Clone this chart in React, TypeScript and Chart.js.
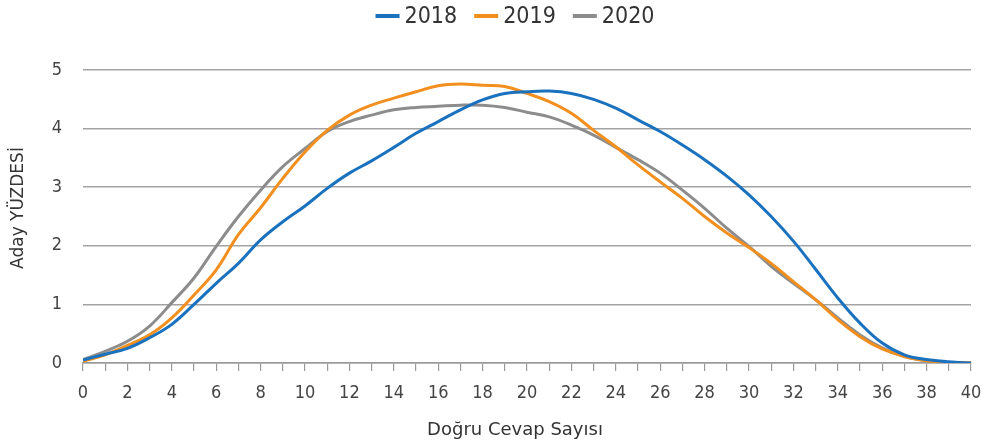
import React, { useEffect, useRef } from "react";
import { Chart, registerables } from "chart.js";

Chart.register(...registerables);

const answers = [0, 1, 2, 3, 4, 5, 6, 7, 8, 9, 10, 11, 12, 13, 14, 15, 16, 17, 18, 19, 20, 21, 22, 23, 24, 25, 26, 27, 28, 29, 30, 31, 32, 33, 34, 35, 36, 37, 38, 39, 40];
const series2018 = [0.05, 0.15, 0.25, 0.43, 0.66, 1.0, 1.36, 1.7, 2.1, 2.41, 2.68, 2.98, 3.24, 3.45, 3.68, 3.92, 4.12, 4.32, 4.49, 4.6, 4.63, 4.64, 4.6, 4.5, 4.35, 4.15, 3.95, 3.72, 3.47, 3.19, 2.87, 2.5, 2.08, 1.6, 1.11, 0.68, 0.34, 0.14, 0.06, 0.02, 0.0];
const series2019 = [0.03, 0.14, 0.3, 0.48, 0.77, 1.16, 1.59, 2.19, 2.65, 3.15, 3.6, 3.97, 4.23, 4.4, 4.52, 4.63, 4.73, 4.76, 4.74, 4.72, 4.6, 4.46, 4.26, 3.97, 3.69, 3.38, 3.09, 2.81, 2.5, 2.22, 1.97, 1.7, 1.39, 1.08, 0.74, 0.45, 0.24, 0.11, 0.04, 0.01, 0.0];
const series2020 = [0.06, 0.2, 0.37, 0.63, 1.03, 1.45, 1.99, 2.5, 2.95, 3.35, 3.66, 3.95, 4.12, 4.23, 4.32, 4.36, 4.38, 4.4, 4.4, 4.36, 4.28, 4.2, 4.06, 3.89, 3.68, 3.47, 3.24, 2.95, 2.64, 2.3, 1.99, 1.65, 1.36, 1.08, 0.77, 0.48, 0.26, 0.11, 0.04, 0.01, 0.0];
const seriesNames = ["2018", "2019", "2020"];
const seriesColors = ["#1a72bf", "#f28f1e", "#8c8c8c"];
const xTitle = "Doğru Cevap Sayısı";
const yTitle = "Aday YÜZDESİ";

const NARROW = "'DejaVu Sans Condensed', 'DejaVu Sans', sans-serif";
const SANS = "'DejaVu Sans', Verdana, sans-serif";

const legendPlugin = {
  id: "customLegend",
  afterDraw(chart: any) {
    const ctx = chart.ctx;
    ctx.save();
    ctx.font = `23px ${NARROW}`;
    const lineW = 24;
    const gapText = 5;
    const gapItem = 17;
    const items = chart.data.datasets.map((d: any) => ({
      label: d.label,
      color: d.borderColor,
      w: ctx.measureText(d.label).width,
    }));
    let total = 0;
    items.forEach((it: any, i: number) => {
      total += lineW + gapText + it.w + (i < items.length - 1 ? gapItem : 0);
    });
    let x = 515 - total / 2;
    const y = 17;
    items.forEach((it: any) => {
      ctx.strokeStyle = it.color;
      ctx.lineWidth = 4;
      ctx.beginPath();
      ctx.moveTo(x, y - 1);
      ctx.lineTo(x + lineW, y - 1);
      ctx.stroke();
      x += lineW + gapText;
      ctx.fillStyle = "#333333";
      ctx.textBaseline = "middle";
      ctx.textAlign = "left";
      ctx.fillText(it.label, x, y);
      x += it.w + gapItem;
    });

    // axis titles
    ctx.fillStyle = "#333333";
    ctx.textAlign = "center";
    ctx.textBaseline = "middle";
    ctx.font = `18px ${SANS}`;
    ctx.fillText(xTitle, 515, 430);
    ctx.save();
    ctx.translate(19, 208);
    ctx.rotate(-Math.PI / 2);
    ctx.font = `17px ${SANS}`;
    ctx.fillText(yTitle, 0, 0);
    ctx.restore();
    ctx.restore();
  },
};

export default function App() {
  const ref = useRef<HTMLCanvasElement | null>(null);
  useEffect(() => {
    if (!ref.current) return;
    const all = [series2018, series2019, series2020];
    const chart = new Chart(ref.current, {
      type: "line",
      data: {
        datasets: all.map((s, i) => ({
          label: seriesNames[i],
          data: s.map((v, j) => ({ x: answers[j], y: v })),
          borderColor: seriesColors[i],
          backgroundColor: seriesColors[i],
          borderWidth: 3,
          pointRadius: 0,
          tension: 0.4,
          fill: false,
        })),
      },
      options: {
        responsive: false,
        animation: false,
        layout: { padding: { top: 70, right: 15, left: 0, bottom: 0 } },
        plugins: {
          legend: { display: false },
          tooltip: { enabled: false },
        },
        scales: {
          x: {
            type: "linear",
            min: 0,
            max: 40,
            afterFit: (s: any) => {
              s.height = 83;
              s.paddingRight = 0;
              s.paddingLeft = 0;
            },
            ticks: {
              stepSize: 1,
              autoSkip: false,
              maxRotation: 0,
              padding: 12,
              color: "#444444",
              font: { family: NARROW, size: 18 },
              callback: (v: any) => (Number(v) % 2 === 0 ? String(v) : ""),
            },
            grid: {
              drawOnChartArea: false,
              drawTicks: true,
              tickLength: 8,
              color: "#9a9a9a",
              lineWidth: 1.2,
            },
            border: { display: true, color: "#9a9a9a", width: 1.5 },
            title: { display: false },
          },
          y: {
            min: 0,
            max: 5,
            afterFit: (s: any) => {
              s.width = 83;
            },
            ticks: {
              stepSize: 1,
              padding: 21,
              color: "#444444",
              font: { family: NARROW, size: 18 },
            },
            grid: {
              drawTicks: false,
              color: "#a3a3a3",
              lineWidth: 1.5,
            },
            border: { display: false },
            title: { display: false },
          },
        },
      },
      plugins: [legendPlugin],
    });
    return () => chart.destroy();
  }, []);
  return (
    <div style={{ position: "absolute", left: 0, top: 0, width: 986, height: 446, background: "#ffffff" }}>
      <canvas ref={ref} width={986} height={446} style={{ display: "block" }} />
    </div>
  );
}
